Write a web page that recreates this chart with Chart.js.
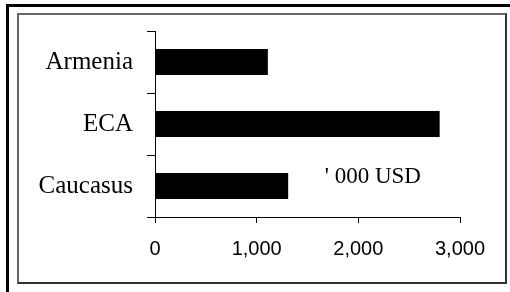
<!DOCTYPE html>
<html lang="en">
  <head>
    <meta charset="UTF-8" />
    <title>Armenia / ECA / Caucasus</title>
    <script src="https://cdn.jsdelivr.net/npm/chart.js@4.4.1/dist/chart.umd.min.js"></script>
    <style>
      body { margin: 0; width: 510px; height: 292px; overflow: hidden; background: #fff; position: relative; }
      .outer { position: absolute; left: 6px; top: 4px; width: 600px; height: 400px;
               border-top: 3px solid #000; border-left: 3px solid #000; }
      .inner { position: absolute; left: 17px; top: 13px; width: 490px; height: 271px; box-sizing: border-box;
               border-top: 2px solid #666; border-left: 2px solid #666;
               border-right: 2px solid #333; border-bottom: 2px solid #333; }
      #myChart { position: absolute; left: 0; top: 0; }
    </style>
  </head>
  <body>
    <div class="outer"></div>
    <div class="inner"></div>
    <canvas id="myChart" width="510" height="292"></canvas>
    <script>
      const categories = ['Armenia', 'ECA', 'Caucasus'];
      const values = [1110, 2800, 1310];
      const xTicks = [0, 1000, 2000, 3000];
      const unitLabel = "' 000 USD";

      // unit note placed inside the plot, next to the Caucasus bar
      const unitNote = {
        id: 'unitNote',
        afterDraw(chart) {
          const ctx = chart.ctx;
          const x = chart.scales.x.getPixelForValue(1670);
          const y = chart.scales.y.getPixelForValue(2) - 3;
          ctx.save();
          ctx.font = '23px "Liberation Serif"';
          ctx.fillStyle = '#000';
          ctx.textAlign = 'left';
          ctx.textBaseline = 'alphabetic';
          ctx.fillText(unitLabel, x, y);
          ctx.restore();
        }
      };

      const ctx = document.getElementById('myChart').getContext('2d');
      const myChart = new Chart(ctx, {
        type: 'bar',
        data: {
          labels: categories,
          datasets: [{
            data: values,
            backgroundColor: '#000',
            borderWidth: 0,
            categoryPercentage: 1,
            barPercentage: 0.42
          }]
        },
        options: {
          indexAxis: 'y',
          responsive: false,
          animation: false,
          layout: { padding: { left: 0, right: 50, top: 31, bottom: 0 } },
          plugins: { legend: { display: false }, tooltip: { enabled: false } },
          scales: {
            x: {
              min: 0,
              max: 3000,
              afterBuildTicks: (scale) => { scale.ticks = xTicks.map(v => ({ value: v })); },
              afterFit: (scale) => { scale.height = 75; },
              border: { display: true, color: '#000', width: 1 },
              grid: { drawOnChartArea: false, drawTicks: true, tickLength: 6, color: '#000' },
              ticks: {
                color: '#000',
                padding: 14,
                maxRotation: 0,
                font: { family: '"Liberation Sans"', size: 20 },
                callback: (v) => v.toLocaleString('en-US')
              }
            },
            y: {
              afterFit: (scale) => { scale.width = 155; },
              border: { display: true, color: '#000', width: 1 },
              grid: { drawOnChartArea: false, drawTicks: true, tickLength: 8, color: '#000', offset: true },
              ticks: {
                color: '#000',
                padding: 14,
                font: { family: '"Liberation Serif"', size: 25 }
              }
            }
          }
        },
        plugins: [unitNote]
      });
    </script>
  </body>
</html>
